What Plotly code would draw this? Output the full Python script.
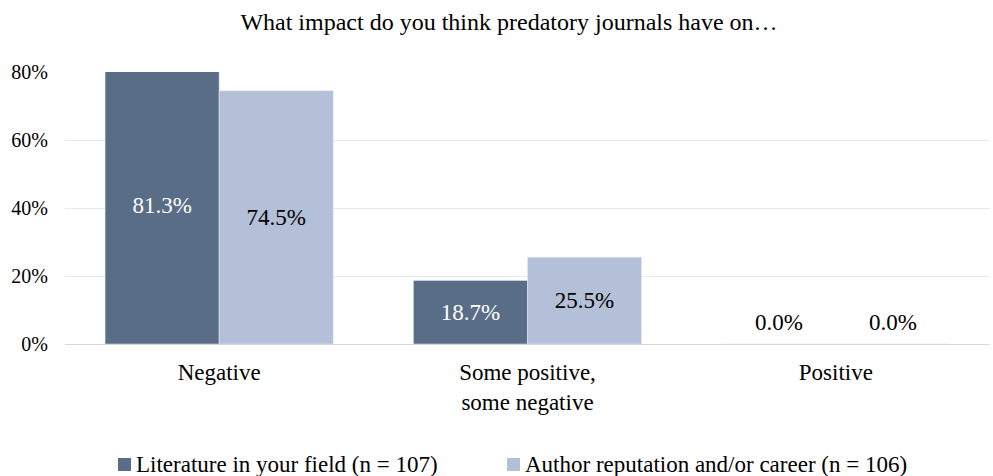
import plotly.graph_objects as go

categories = ["Negative", "Some positive,<br>some negative", "Positive"]
literature = [81.3, 18.7, 0.0]
author = [74.5, 25.5, 0.0]
series_names = ["Literature in your field (n = 107)", "Author reputation and/or career (n = 106)"]
tick_vals = [0, 20, 40, 60, 80]
tick_text = ["0%", "20%", "40%", "60%", "80%"]

FONT = "Liberation Serif"
dark = "#5a6d86"
light = "#b4bfd8"
colors = [dark, light]
label_colors = ["white", "black"]

L, R, T, B = 65, 3, 72, 132
W, H = 993, 476
plot_w = W - L - R
BARGAP = 0.26
bar_px = plot_w / len(categories) * (1 - BARGAP) / 2

def px_to_paper_x(px):
    return (px - L) / plot_w

def px_to_paper_y(py):
    return (H - B - py) / (H - T - B)

fig = go.Figure()
annotations = []
for i, (vals, name) in enumerate(zip([literature, author], series_names)):
    fig.add_trace(go.Bar(
        x=categories, y=vals, name=name, marker_color=colors[i],
        text=[f"{v:.1f}%" if v > 0 else "" for v in vals],
        textposition="inside", insidetextanchor="middle", textangle=0,
        insidetextfont=dict(color=label_colors[i], size=23, family=FONT),
        cliponaxis=True, showlegend=False,
    ))
    # zero-value labels (shown just above the baseline)
    for c, v in zip(categories, vals):
        if v == 0:
            annotations.append(dict(
                x=c, y=v, xref="x", yref="y", text=f"{v:.1f}%", showarrow=False,
                xshift=(-1 if i == 0 else 1) * bar_px / 2, yshift=22,
                font=dict(size=23, family=FONT, color="black"),
            ))

# manual legend
legend_items = [(118, 134), (507, 523)]
shapes = []
for i, (sq_left, txt_left) in enumerate(legend_items):
    shapes.append(dict(
        type="rect", xref="paper", yref="paper",
        x0=px_to_paper_x(sq_left), x1=px_to_paper_x(sq_left + 13),
        y0=px_to_paper_y(471), y1=px_to_paper_y(458),
        fillcolor=colors[i], line=dict(width=0),
    ))
    annotations.append(dict(
        x=px_to_paper_x(txt_left), y=px_to_paper_y(464), xref="paper", yref="paper",
        xanchor="left", yanchor="middle", text=series_names[i], showarrow=False,
        font=dict(size=23, family=FONT, color="black"),
    ))

fig.update_layout(
    width=W, height=H,
    margin=dict(l=L, r=R, t=T, b=B),
    paper_bgcolor="white", plot_bgcolor="white",
    font=dict(family=FONT, size=20, color="black"),
    title=dict(text="What impact do you think predatory journals have on…",
               x=509 / W, xanchor="center", y=1 - 22 / H, yanchor="middle",
               font=dict(size=24, family=FONT)),
    barmode="group", bargap=BARGAP, bargroupgap=0,
    showlegend=False,
    annotations=annotations, shapes=shapes,
    xaxis=dict(showgrid=False, showline=False, ticks="", tickfont=dict(size=23),
               ticklabelstandoff=12),
    yaxis=dict(range=[0, 80], tickvals=tick_vals, ticktext=tick_text,
               showgrid=True, gridcolor="#e9e9e9", gridwidth=1,
               zeroline=True, zerolinecolor="#d9d9d9", zerolinewidth=1,
               showline=False, ticks="", tickfont=dict(size=20),
               ticklabelstandoff=16),
)

fig.write_html("out.html")
